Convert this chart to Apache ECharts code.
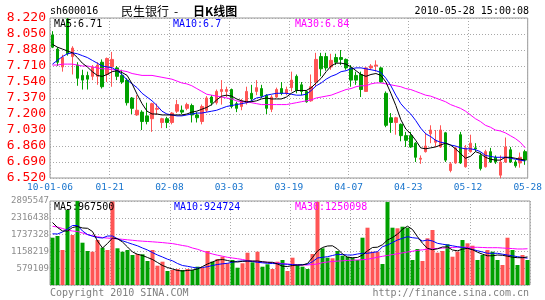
<!DOCTYPE html>
<html><head><meta charset="utf-8">
<script src="https://cdn.jsdelivr.net/npm/echarts@6/dist/echarts.min.js"></script>
<style>html,body{margin:0;padding:0;background:#fff}#c{width:545px;height:300px}</style>
</head><body><div id="c"></div><script>
const dates = ['01-06','01-07','01-08','01-11','01-12','01-13','01-14','01-15','01-18','01-19','01-20','01-21','01-22','01-25','01-26','01-27','01-28','01-29',
'02-01','02-02','02-03','02-04','02-05','02-08','02-09','02-10','02-11','02-12','02-22','02-23','02-24','02-25','02-26',
'03-01','03-02','03-03','03-04','03-05','03-08','03-09','03-10','03-11','03-12','03-15','03-16','03-17','03-18','03-19','03-22','03-23','03-24','03-25','03-26','03-29','03-30','03-31',
'04-01','04-02','04-06','04-07','04-08','04-09','04-12','04-13','04-14','04-15','04-16','04-19','04-20','04-21','04-22','04-23','04-26','04-27','04-28','04-29','04-30',
'05-04','05-05','05-06','05-07','05-10','05-11','05-12','05-13','05-14','05-17','05-18','05-19','05-20','05-21','05-24','05-25','05-26','05-27','05-28'];
const tickLabels = ['10-01-06','01-21','02-08','03-03','03-19','04-07','04-23','05-12','05-28'];

const open = [8.04,7.89,7.70,8.21,7.81,7.72,7.61,7.61,7.60,7.60, 7.75,7.62,7.70,7.69,7.61,7.56,7.37,7.19,7.22,7.18, 7.15,7.25,7.11,7.15,7.11,7.23,7.24,7.26,7.29,7.19, 7.12,7.24,7.38,7.32,7.44,7.44,7.46,7.31,7.28,7.32, 7.42,7.44,7.47,7.40,7.25,7.38,7.47,7.42,7.48,7.60, 7.51,7.44,7.34,7.54,7.81,7.81,7.70,7.80,7.80,7.78, 7.69,7.61,7.62,7.44,7.69,7.71,7.69,7.42,7.16,7.11, 7.09,6.97,6.97,6.89,6.72,6.80,6.99,6.90,6.85,7.00, 6.60,6.68,6.98,6.64,6.80,6.84,6.76,6.64,6.80,6.74, 6.55,6.69,6.82,6.69,6.68,6.80];
const close = [7.91,7.75,7.80,7.84,7.90,7.58,7.56,7.57,7.70,7.72, 7.49,7.79,7.78,7.60,7.54,7.32,7.26,7.24,7.12,7.12, 7.31,7.26,7.15,7.11,7.21,7.30,7.22,7.30,7.19,7.16, 7.28,7.37,7.32,7.44,7.46,7.46,7.28,7.26,7.34,7.44, 7.36,7.48,7.39,7.26,7.38,7.46,7.42,7.46,7.56,7.45, 7.44,7.33,7.49,7.78,7.68,7.69,7.77,7.75,7.78,7.69, 7.56,7.56,7.46,7.69,7.71,7.72,7.54,7.08,7.11,7.16, 6.97,6.92,6.85,6.74,6.73,6.86,7.03,6.92,7.03,6.71, 6.67,6.84,6.68,6.84,6.89,6.83,6.62,6.80,6.69,6.69, 6.69,6.85,6.69,6.65,6.74,6.71];
const low = [7.90,7.71,7.65,7.82,7.62,7.50,7.46,7.46,7.56,7.51, 7.47,7.54,7.49,7.56,7.52,7.29,7.20,7.18,7.03,7.09, 7.01,7.19,7.05,7.05,7.09,7.21,7.20,7.24,7.11,7.11, 7.09,7.22,7.29,7.30,7.30,7.38,7.26,7.22,7.24,7.30, 7.33,7.40,7.37,7.20,7.22,7.37,7.40,7.40,7.44,7.42, 7.40,7.32,7.33,7.49,7.60,7.66,7.67,7.72,7.72,7.67, 7.49,7.51,7.38,7.44,7.67,7.65,7.53,7.06,7.00,6.98, 6.91,6.85,6.84,6.69,6.67,6.79,6.89,6.85,6.84,6.69, 6.58,6.67,6.67,6.63,6.79,6.80,6.60,6.63,6.68,6.67, 6.52,6.68,6.68,6.63,6.63,6.66];
const high = [8.08,7.91,7.83,8.22,7.92,7.75,7.67,7.65,7.72,7.75, 7.78,7.80,7.86,7.71,7.67,7.58,7.38,7.40,7.24,7.32, 7.32,7.31,7.16,7.17,7.22,7.35,7.29,7.32,7.31,7.22, 7.30,7.39,7.40,7.46,7.56,7.49,7.47,7.33,7.36,7.49, 7.51,7.56,7.51,7.41,7.40,7.48,7.54,7.49,7.65,7.62, 7.54,7.45,7.62,7.85,7.85,7.85,7.84,7.84,7.88,7.79, 7.72,7.65,7.65,7.70,7.73,7.77,7.70,7.44,7.21,7.17, 7.10,7.01,7.01,6.90,6.76,7.00,7.08,7.03,7.08,7.01, 6.69,6.85,7.01,6.87,6.98,6.89,6.79,6.82,6.84,6.76, 6.76,6.95,6.85,6.71,6.79,6.82];

const ma5 = [7.94,7.91,7.89,7.87,7.85,7.80,7.74,7.70,7.65,7.61, 7.60,7.62,7.65,7.66,7.64,7.61,7.52,7.41,7.31,7.23, 7.20,7.20,7.19,7.19,7.19,7.19,7.19,7.20,7.22,7.23, 7.25,7.27,7.30,7.35,7.39,7.40,7.39,7.36,7.34,7.33, 7.33,7.34,7.36,7.37,7.36,7.36,7.36,7.38,7.42,7.45, 7.45,7.45,7.48,7.53,7.58,7.65,7.71,7.74,7.74,7.73, 7.70,7.66,7.62,7.60,7.62,7.63,7.61,7.54,7.42,7.29, 7.14,7.04,6.99,6.92,6.84,6.83,6.84,6.85,6.87,6.89, 6.87,6.83,6.78,6.73,6.75,6.80,6.78,6.74,6.72,6.71, 6.71,6.74,6.74,6.73,6.72,6.71];
const ma10 = [7.73,7.77,7.81,7.84,7.85,7.84,7.82,7.80,7.77,7.74, 7.71,7.70,7.69,7.66,7.62,7.56,7.52,7.48,7.42,7.38, 7.34,7.29,7.23,7.20,7.19,7.18,7.18,7.19,7.20,7.21, 7.21,7.22,7.23,7.24,7.26,7.28,7.29,7.30,7.31,7.32, 7.34,7.37,7.38,7.40,7.41,7.42,7.42,7.42,7.41,7.40, 7.40,7.41,7.45,7.50,7.53,7.57,7.60,7.62,7.65,7.66, 7.68,7.69,7.69,7.68,7.67,7.66,7.64,7.58,7.50,7.40, 7.31,7.25,7.20,7.13,7.05,6.99,6.96,6.92,6.90,6.89, 6.87,6.86,6.84,6.83,6.83,6.82,6.80,6.76,6.75,6.74, 6.74,6.74,6.73,6.72,6.71,6.70];
const ma30 = [7.72,7.72,7.73,7.73,7.73,7.72,7.71,7.71,7.70,7.69, 7.68,7.68,7.67,7.67,7.66,7.65,7.63,7.62,7.61,7.61, 7.61,7.60,7.59,7.58,7.57,7.55,7.53,7.52,7.50,7.47, 7.44,7.41,7.40,7.39,7.38,7.37,7.36,7.34,7.33,7.33, 7.32,7.31,7.30,7.30,7.30,7.30,7.30,7.30,7.31,7.32, 7.33,7.34,7.35,7.37,7.38,7.39,7.40,7.42,7.44,7.46, 7.47,7.49,7.50,7.50,7.52,7.53,7.53,7.52,7.51,7.50, 7.49,7.47,7.46,7.44,7.42,7.40,7.39,7.37,7.35,7.33, 7.30,7.28,7.26,7.23,7.19,7.15,7.12,7.08,7.06,7.03, 7.02,7.00,6.97,6.94,6.90,6.84];

const volume = [1630500,1689100,1206500,2585300,1723600,2895547,1458100,1172000,1147900,1551200, 1285800,1206500,2880000,1265100,1147900,1206500,1034100,1068600,1058300,827300, 1206500,665300,803200,482600,517100,551500,517100,551500,517100,630800, 596300,1172000,803200,896200,975500,748000,861800,596300,748000,1113400, 782500,1147900,630800,713600,551500,803200,861800,482600,941100,689400, 630800,551500,1068600,2870000,1265100,941100,920400,1172000,1010000,975500, 941100,861800,1630500,1975200,1147900,1147900,723900,2860000,1975200,1954500, 2009700,1975200,861800,1241000,827300,1609800,1895900,1113400,1172000,1403000, 975500,1147900,1551200,1437400,1354700,861800,1034100,1206500,1147900,861800, 689400,1630500,1206500,689400,1034100,861800];
const volMa5 = [2154000,1982000,1861000,1861000,1982000,2017000,1965000,1955000,1844000,1517000, 1275000,1431000,1620000,1593000,1482000,1310000,1138000,1058000,1017000,948000, 879000,776000,672000,603000,552000,500000,483000,500000,517000,552000, 638000,724000,793000,862000,879000,845000,803000,793000,817000,827000, 827000,827000,803000,783000,783000,724000,648000,638000,672000,689000, 689000,741000,948000,1172000,1293000,1344000,1351000,1241000,1069000,958000, 941000,948000,1034000,1179000,1293000,1303000,1389000,1551000,1637000,1751000, 1924000,2027000,1913000,1665000,1437000,1265000,1217000,1248000,1310000,1310000, 1207000,1179000,1234000,1265000,1217000,1131000,1062000,1007000,1007000,1034000, 1024000,993000,958000,941000,941000,967500];
const volMa10 = [1765000,1758000,1827000,1930000,2051000,2051000,1861000,1741000,1682000,1637000, 1620000,1689000,1689000,1593000,1524000,1465000,1406000,1351000,1275000,1207000, 1117000,1034000,965000,889000,834000,741000,672000,645000,610000,586000, 603000,631000,672000,707000,731000,748000,786000,817000,827000,827000, 807000,783000,765000,748000,741000,734000,724000,714000,703000,689000, 703000,714000,803000,931000,955000,976000,1017000,1058000,1048000,1034000, 1034000,1069000,1093000,1093000,1120000,1148000,1320000,1379000,1465000,1551000, 1610000,1665000,1631000,1610000,1517000,1551000,1517000,1437000,1406000,1379000, 1351000,1320000,1293000,1265000,1224000,1182000,1138000,1093000,1093000,1093000, 1062000,1034000,1007000,976000,948000,924724];
const volMa30 = [2023000,1999000,1948000,1889000,1861000,1844000,1793000,1737000,1699000,1665000, 1634000,1617000,1603000,1589000,1575000,1558000,1541000,1524000,1510000,1500000, 1489000,1475000,1462000,1444000,1427000,1396000,1362000,1334000,1275000,1231000, 1172000,1117000,1069000,1027000,993000,955000,931000,907000,879000,845000, 820000,807000,793000,786000,769000,755000,738000,720000,707000,696000, 689000,689000,707000,724000,769000,793000,810000,824000,834000,848000, 855000,862000,872000,889000,920000,958000,989000,1020000,1048000,1079000, 1107000,1138000,1165000,1193000,1213000,1234000,1248000,1262000,1272000,1282000, 1293000,1306000,1306000,1300000,1300000,1300000,1293000,1286000,1286000,1286000, 1275000,1265000,1255000,1241000,1241000,1250098];

const priceMin = 6.52, priceMax = 8.22, priceStep = 0.17;
const volMax = 2895547;

const UP = '#ff5555', DOWN = '#00a000';
const MONO = '"DejaVu Sans Mono", "Liberation Mono", monospace';
const CJK = '"Noto Sans CJK SC", sans-serif';
const GRIDC = '#a8a8a8';
const last = a => a[a.length - 1];

const candles = open.map((o, i) => [o, close[i], low[i], high[i]]);
const volBars = volume.map((v, i) => ({ value: v, itemStyle: { color: close[i] >= open[i] ? UP : DOWN } }));

function txt(x, y, text, color, font, align) {
  return { type: 'text', x: x, y: y, silent: true, z: 100,
    style: { text: text, fill: color, font: font, textAlign: align || 'left', textVerticalAlign: 'middle', align: align || 'left', verticalAlign: 'middle' } };
}
const dotted = { show: true, lineStyle: { color: GRIDC, width: 1, type: [1, 2] } };
const hiddenCat = (g) => ({ type: 'category', gridIndex: g, position: 'top', data: dates, boundaryGap: true,
  axisLine: { show: false }, axisTick: { show: false }, axisLabel: { show: false }, splitLine: { show: false } });

const chart = echarts.init(document.getElementById('c'), null, { renderer: 'canvas' });
chart.setOption({
  animation: false,
  backgroundColor: '#fff',
  grid: [
    { left: 50, top: 18, width: 480, height: 160, show: true, borderColor: '#999', borderWidth: 1, backgroundColor: 'transparent' },
    { left: 50, top: 201, width: 480, height: 84, show: true, borderColor: '#999', borderWidth: 1, backgroundColor: 'transparent' }
  ],
  xAxis: [
    hiddenCat(0),
    hiddenCat(1),
    { type: 'value', gridIndex: 0, position: 'bottom', min: 0, max: (tickLabels.length - 1) * 12, interval: 12,
      axisLine: { show: false }, axisTick: { show: false }, splitLine: dotted,
      axisLabel: { show: true, margin: 5, color: '#1874cd', fontFamily: MONO, fontSize: 9.5,
        formatter: v => tickLabels[Math.round(v / 12)] } },
    { type: 'value', gridIndex: 1, position: 'bottom', min: 0, max: (tickLabels.length - 1) * 12, interval: 12,
      axisLine: { show: false }, axisTick: { show: false }, splitLine: dotted, axisLabel: { show: false } }
  ],
  yAxis: [
    { type: 'value', gridIndex: 0, min: priceMin, max: priceMax, interval: priceStep,
      axisLine: { show: false }, axisTick: { show: false }, splitLine: dotted,
      axisLabel: { margin: 4, color: '#ff0000', fontFamily: MONO, fontSize: 13, formatter: v => v.toFixed(3) } },
    { type: 'value', gridIndex: 1, min: 0, max: volMax, interval: volMax / 5,
      axisLine: { show: false }, axisTick: { show: false }, splitLine: dotted,
      axisLabel: { margin: 1, color: '#8c8c8c', fontFamily: MONO, fontSize: 9, formatter: v => v < 1 ? '' : String(Math.round(v)) } }
  ],
  series: [
    { type: 'candlestick', xAxisIndex: 0, yAxisIndex: 0, data: candles, barWidth: 3, silent: true,
      itemStyle: { color: UP, color0: DOWN, borderColor: UP, borderColor0: DOWN, borderWidth: 1 } },
    { type: 'line', xAxisIndex: 0, yAxisIndex: 0, data: ma30, showSymbol: false, silent: true, lineStyle: { color: '#ff00ff', width: 1 }, z: 3 },
    { type: 'line', xAxisIndex: 0, yAxisIndex: 0, data: ma10, showSymbol: false, silent: true, lineStyle: { color: '#0000ff', width: 1 }, z: 3 },
    { type: 'line', xAxisIndex: 0, yAxisIndex: 0, data: ma5, showSymbol: false, silent: true, lineStyle: { color: '#000000', width: 1 }, z: 3 },
    { type: 'bar', xAxisIndex: 1, yAxisIndex: 1, data: volBars, barWidth: 4, silent: true },
    { type: 'line', xAxisIndex: 1, yAxisIndex: 1, data: volMa30, showSymbol: false, silent: true, lineStyle: { color: '#ff00ff', width: 1 }, z: 3 },
    { type: 'line', xAxisIndex: 1, yAxisIndex: 1, data: volMa10, showSymbol: false, silent: true, lineStyle: { color: '#0000ff', width: 1 }, z: 3 },
    { type: 'line', xAxisIndex: 1, yAxisIndex: 1, data: volMa5, showSymbol: false, silent: true, lineStyle: { color: '#000000', width: 1 }, z: 3 }
  ],
  graphic: [
    txt(50, 11, 'sh600016', '#000', '10px ' + MONO),
    txt(121, 11, '民生银行', '#000', '12px ' + CJK),
    txt(174, 11, '-', '#000', '12px ' + CJK),
    txt(193, 11, '日K线图', '#000', 'bold 12px ' + CJK),
    txt(529, 11, '2010-05-28 15:00:08', '#000', '10px ' + MONO, 'right'),
    txt(54, 24, 'MA5:' + last(ma5), '#000', '10px ' + MONO),
    txt(173, 24, 'MA10:' + last(ma10), '#0000ff', '10px ' + MONO),
    txt(295, 24, 'MA30:' + last(ma30), '#ff00ff', '10px ' + MONO),
    txt(54, 207.5, 'MA5:' + last(volMa5), '#000', '10px ' + MONO),
    txt(174, 207.5, 'MA10:' + last(volMa10), '#0000ff', '10px ' + MONO),
    txt(295, 207.5, 'MA30:' + last(volMa30), '#ff00ff', '10px ' + MONO),
    txt(50, 293, 'Copyright 2010 SINA.COM', '#808080', '10px ' + MONO),
    txt(529, 293, 'http://finance.sina.com.cn', '#808080', '10px ' + MONO, 'right')
  ]
});
</script></body></html>
